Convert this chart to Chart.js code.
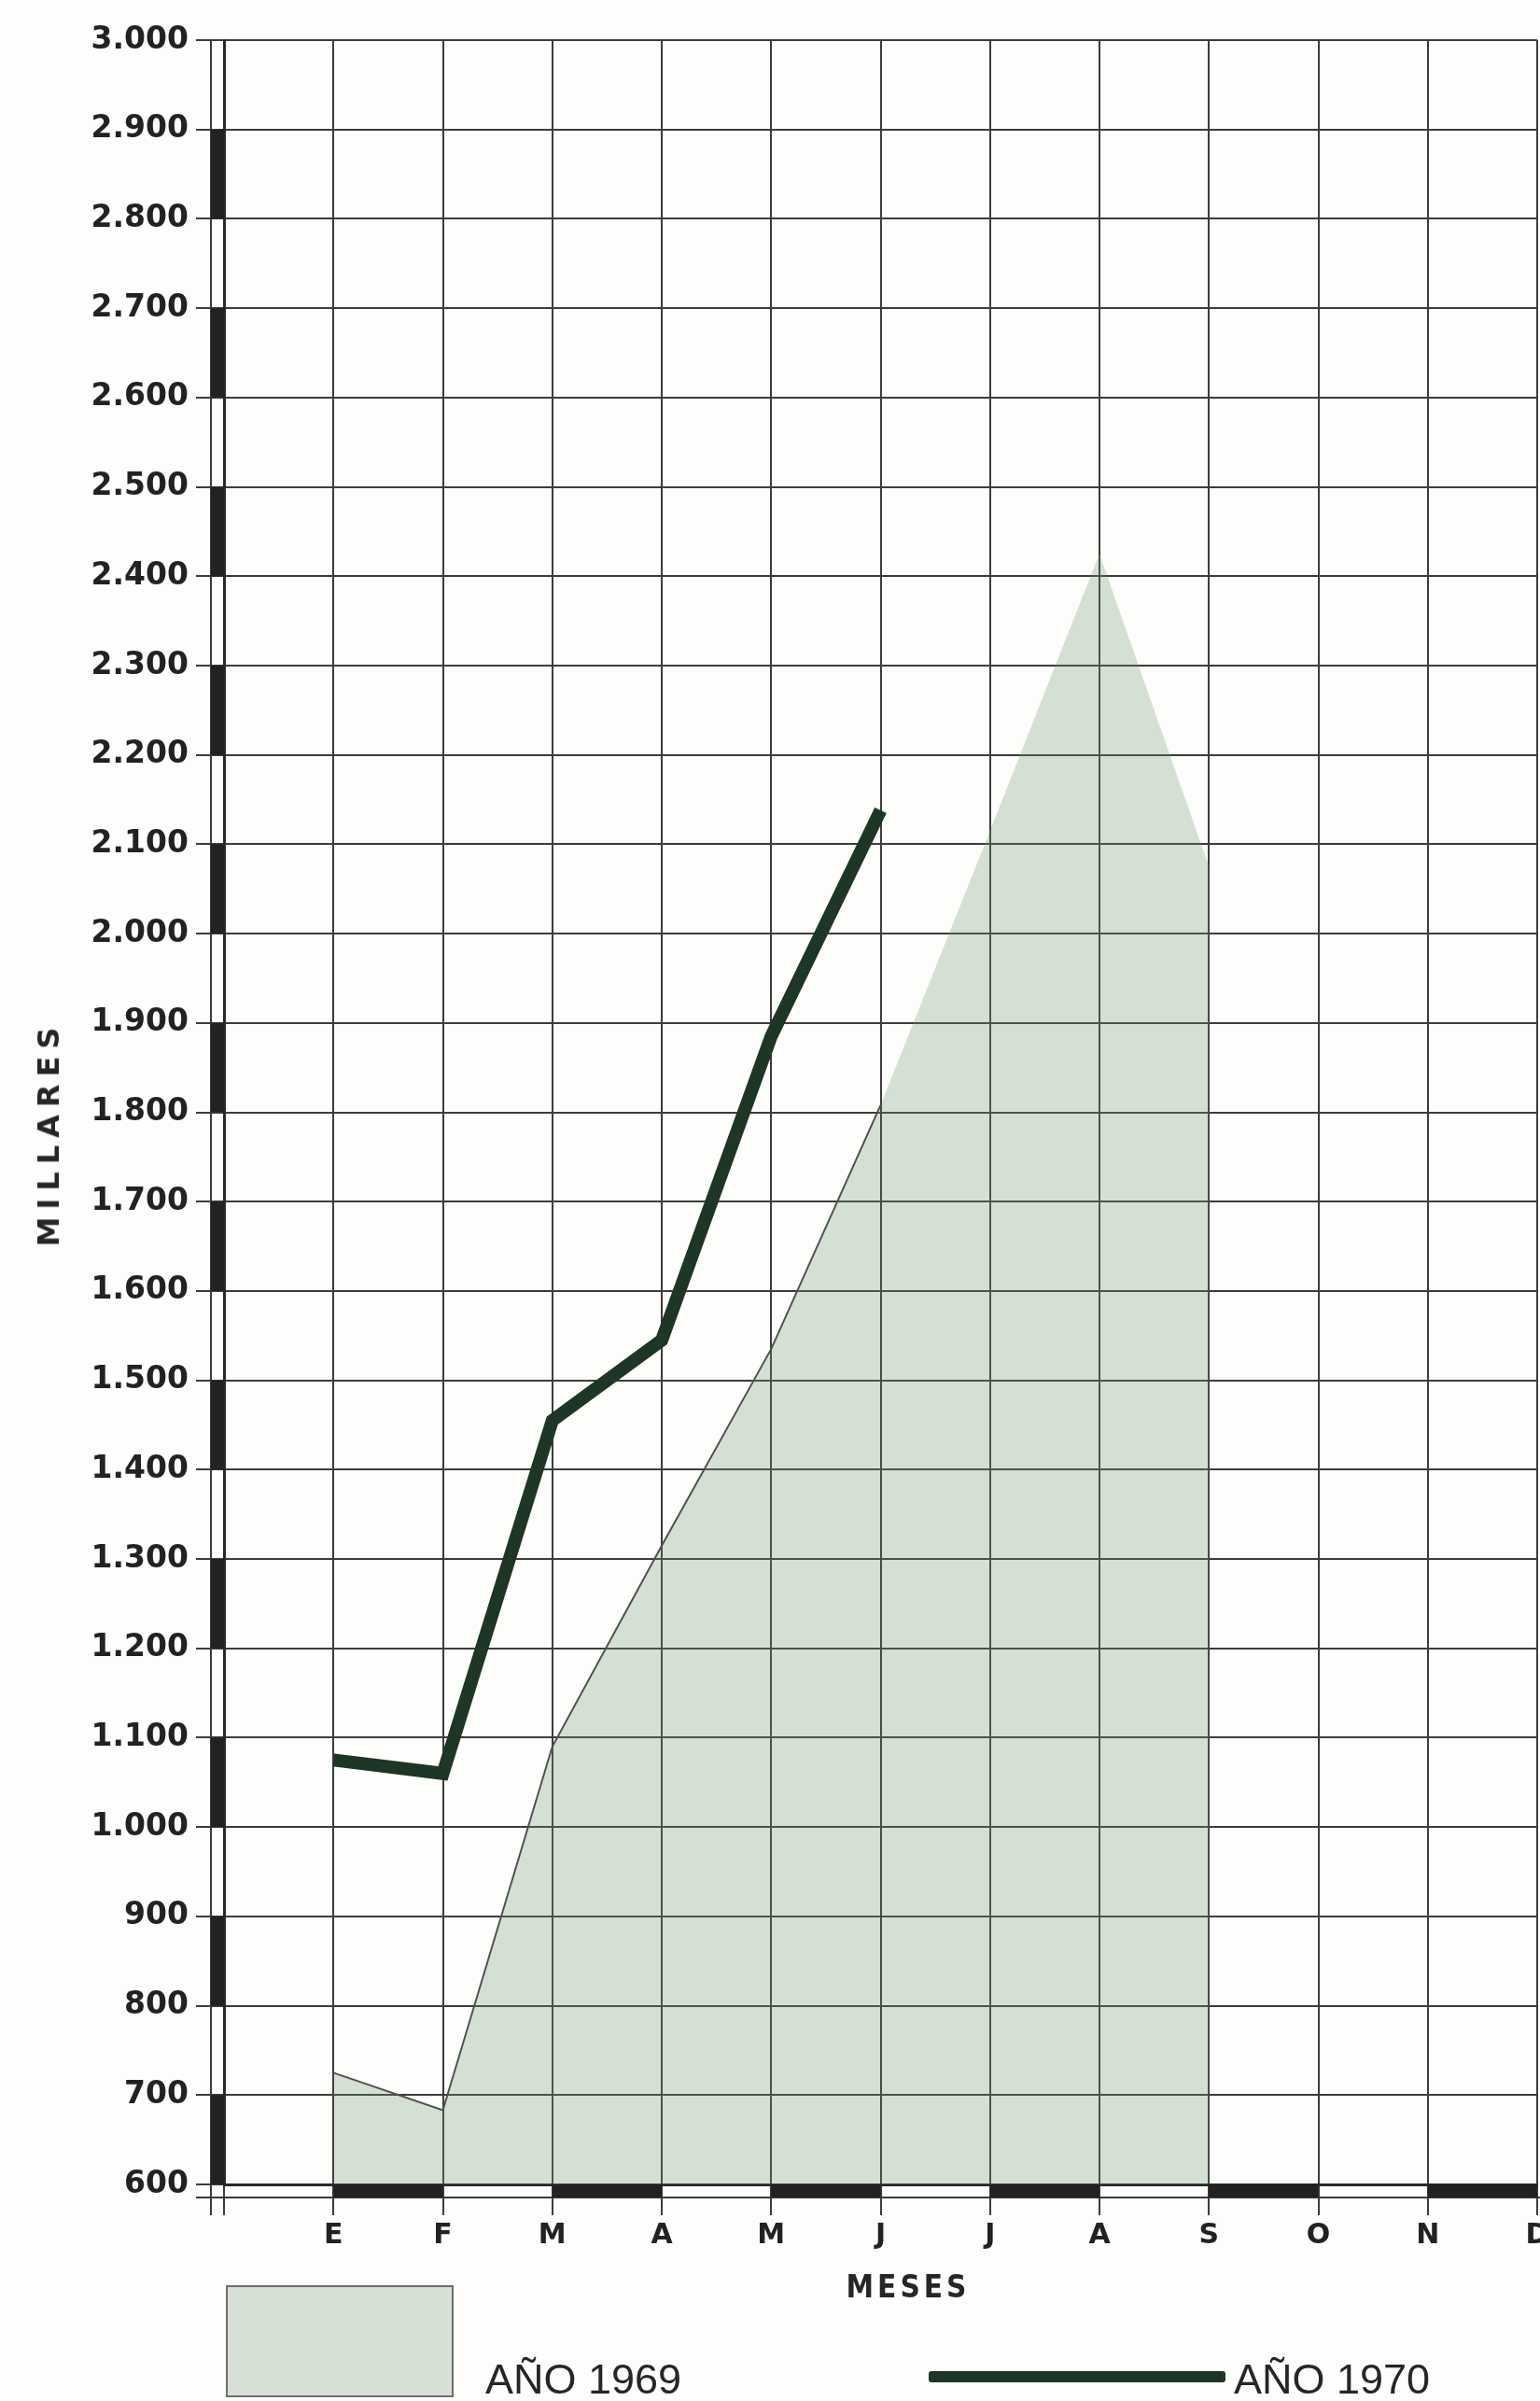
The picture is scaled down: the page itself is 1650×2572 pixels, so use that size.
<!DOCTYPE html>
<html>
<head>
<meta charset="utf-8">
<script src="https://cdn.jsdelivr.net/npm/chart.js@4.4.1/dist/chart.umd.min.js"></script>
<style>
body{margin:0;background:#fff;overflow:hidden}
#wrap{position:relative;width:1650px;height:2572px;overflow:hidden;background:#fdfdfb}
#chart{position:absolute;left:0;top:0}
.txt{position:absolute;font-family:"DejaVu Sans",sans-serif;color:#262626;white-space:nowrap;line-height:1}
#ytitle{left:52px;top:1214px;font-size:32px;font-weight:bold;letter-spacing:8px;transform:translate(-50%,-50%) rotate(-90deg);transform-origin:50% 50%}
#xtitle{left:973px;top:2433px;font-size:33px;font-weight:bold;letter-spacing:4px;transform:translateX(-50%);font-family:"DejaVu Sans Condensed","DejaVu Sans",sans-serif}
#box69{position:absolute;left:242px;top:2448px;width:240px;height:116px;background:#d6e0d5;border:2px solid #6d6d6d}
#lab69{left:520px;top:2526px;font-size:45px;font-family:"Liberation Sans",sans-serif}
#line70{position:absolute;left:995px;top:2540px;width:318px;height:12px;background:#1d3626;border-radius:3px}
#lab70{left:1322px;top:2526px;font-size:45px;font-family:"Liberation Sans",sans-serif}
</style>
</head>
<body>
<div id="wrap">
  <canvas id="chart" width="1680" height="2572"></canvas>
  <div class="txt" id="ytitle">MILLARES</div>
  <div class="txt" id="xtitle">MESES</div>
  <div id="box69"></div>
  <div class="txt" id="lab69">AÑO 1969</div>
  <div id="line70"></div>
  <div class="txt" id="lab70">AÑO 1970</div>
</div>
<script>
// months, first slot is the empty one on the y axis
var months = ['', 'E', 'F', 'M', 'A', 'M', 'J', 'J', 'A', 'S', 'O', 'N', 'D'];

// thousands
var values1969 = [null, 725, 683, 1090, 1315, 1535, 1808, 2115, 2425, 2075];
var values1970 = [null, 1075, 1060, 1455, 1545, 1885, 2138];

var yMin = 600, yMax = 3000, yStep = 100;

function fmtThousands(v) {
	if (v >= 1000) return Math.floor(v / 1000) + '.' + String(v % 1000).padStart(3, '0');
	return String(v);
}

//double axis lines with the black/white blocks
var axisDeco = {
	id: 'axisDeco',
	afterDraw: function(chart) {
		var ctx = chart.ctx, a = chart.chartArea;
		var xs = chart.scales.x, ys = chart.scales.y;
		ctx.save();
		ctx.fillStyle = '#222';
		ctx.strokeStyle = '#3a3a3a';
		ctx.lineWidth = 2;
		ctx.beginPath();
		ctx.moveTo(a.left - 14, a.top);
		ctx.lineTo(a.left - 14, a.bottom + 33);
		ctx.stroke();
		for (var v = yMin; v < yMax; v += 2 * yStep) {
			var y0 = ys.getPixelForValue(v + yStep), y1 = ys.getPixelForValue(v);
			ctx.fillRect(a.left - 14, y0, 14, y1 - y0);
		}
		ctx.beginPath();
		ctx.moveTo(a.left - 30, a.bottom + 14);
		ctx.lineTo(a.right + 40, a.bottom + 14);
		ctx.stroke();
		for (var i = 1; i < months.length - 1; i += 2) {
			var x0 = xs.getPixelForValue(i), x1 = xs.getPixelForValue(i + 1);
			ctx.fillRect(x0, a.bottom, x1 - x0, 14);
		}
		ctx.restore();
	}
};

var ctx = document.getElementById('chart').getContext('2d');
new Chart(ctx, {
	type: 'line',
	data: {
		labels: months,
		datasets: [{
			label: 'AÑO 1969',
			data: values1969,
			fill: 'start',
			backgroundColor: 'rgba(110,150,110,0.28)',
			borderColor: '#505050',
			borderWidth: 2,
			pointRadius: 0,
			tension: 0,
			segment: {
				borderColor: function(c) { return c.p0DataIndex >= 6 ? 'rgba(0,0,0,0)' : '#505050'; }
			}
		}, {
			label: 'AÑO 1970',
			data: values1970,
			fill: false,
			borderColor: '#1d3626',
			borderWidth: 14,
			borderJoinStyle: 'miter',
			borderCapStyle: 'butt',
			pointRadius: 0,
			tension: 0
		}]
	},
	options: {
		responsive: false,
		animation: false,
		layout: { padding: { top: 43, right: 33, bottom: 0, left: 0 } },
		plugins: { legend: { display: false }, tooltip: { enabled: false } },
		scales: {
			x: {
				offset: false,
				grid: { color: '#3c3c3c', lineWidth: 2, tickLength: 33, tickColor: '#3c3c3c' },
				border: { display: true, color: '#2a2a2a', width: 3 },
				ticks: {
					autoSkip: false, maxRotation: 0, padding: 4, color: '#222',
					font: { family: 'DejaVu Sans', size: 30, weight: 'bold' }
				},
				afterFit: function(s) { s.height = 232; }
			},
			y: {
				min: yMin, max: yMax,
				grid: { color: '#3c3c3c', lineWidth: 2, tickLength: 30, tickColor: '#3c3c3c' },
				border: { display: true, color: '#2a2a2a', width: 3 },
				ticks: {
					stepSize: yStep, padding: 8, color: '#222',
					font: { family: 'DejaVu Sans', size: 33, weight: 'bold' },
					callback: function(v) { return fmtThousands(v); }
				},
				afterFit: function(s) { s.width = 240; }
			}
		}
	},
	plugins: [axisDeco]
});
</script>
</body>
</html>
